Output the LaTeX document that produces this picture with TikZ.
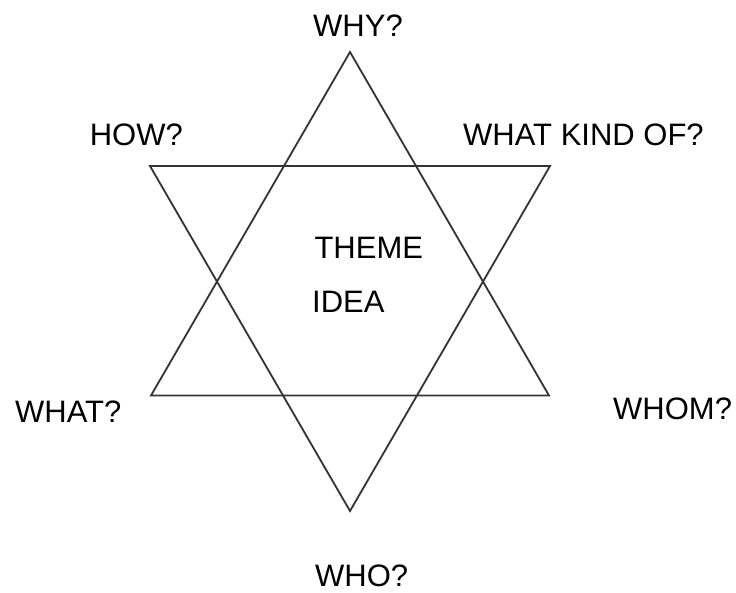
\documentclass[tikz,border=0pt]{standalone}
\usepackage{fontspec}
\setmainfont{Liberation Sans}
\begin{document}
\begin{tikzpicture}[x=1pt,y=-1pt,
  lbl/.style={inner sep=0pt,anchor=base west,font=\fontsize{31}{37}\selectfont,text=black},
  starline/.style={draw=black!80,line width=1.8pt,line join=miter}]
\useasboundingbox[fill=white] (0,0) rectangle (736,592);
% upward triangle
\coordinate (ua) at (350,52);
\coordinate (ul) at (151,395.5);
\coordinate (ur) at (549,395.5);
% downward triangle
\coordinate (dl) at (150,166);
\coordinate (dr) at (550,166);
\coordinate (db) at (350,511);
\draw[starline] (ua) -- (ul) -- (ur) -- cycle;
\draw[starline] (dl) -- (dr) -- (db) -- cycle;
% labels
\node[lbl] (why) at (313,36) {WHY?};
\node[lbl] (how) at (89.6,145.5) {HOW?};
\node[lbl] (kind) at (463,145) {WHAT KIND OF?};
\node[lbl] (theme) at (314.3,258) {THEME};
\node[lbl] (idea) at (312,312) {IDEA};
\node[lbl] (what) at (15,422.5) {WHAT?};
\node[lbl] (whom) at (613,419) {WHOM?};
\node[lbl,text depth=0pt] (who) at (315,586) {WHO?};
\end{tikzpicture}
\end{document}
